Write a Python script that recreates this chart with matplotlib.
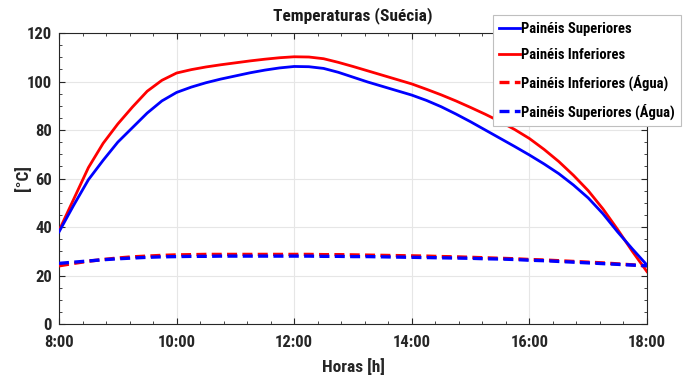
import matplotlib

matplotlib.use("Agg")
import matplotlib.pyplot as plt  # noqa: E402
from matplotlib.ticker import MultipleLocator  # noqa: E402

plt.rcParams["font.family"] = ["Roboto Condensed", "Liberation Sans", "DejaVu Sans"]
plt.rcParams["font.weight"] = "bold"

# hours of the day (decimal), quarter-hour steps
horas = [8.0, 8.25, 8.5, 8.75, 9.0, 9.25, 9.5, 9.75,
         10.0, 10.25, 10.5, 10.75, 11.0, 11.25, 11.5, 11.75,
         12.0, 12.25, 12.5, 12.75, 13.0, 13.25, 13.5, 13.75,
         14.0, 14.25, 14.5, 14.75, 15.0, 15.25, 15.5, 15.75,
         16.0, 16.25, 16.5, 16.75, 17.0, 17.25, 17.5, 17.75, 18.0]

sup = [38.0, 49.0, 59.5, 67.5, 75.0, 81.0, 87.0, 92.0,
       95.5, 97.7, 99.5, 101.0, 102.3, 103.6, 104.7, 105.6,
       106.2, 106.1, 105.4, 103.8, 101.8, 99.8, 98.0, 96.2,
       94.4, 92.2, 89.6, 86.6, 83.4, 80.0, 76.6, 73.2,
       69.7, 66.0, 62.0, 57.3, 52.0, 45.5, 38.0, 31.0, 24.3]
inf = [38.5, 51.5, 64.5, 74.5, 82.5, 89.5, 96.0, 100.5,
       103.5, 104.9, 106.0, 106.9, 107.7, 108.5, 109.2, 109.8,
       110.2, 110.1, 109.4, 107.9, 106.2, 104.4, 102.6, 100.8,
       99.0, 96.8, 94.5, 92.0, 89.3, 86.5, 83.5, 80.2,
       76.5, 72.0, 67.0, 61.3, 55.0, 47.5, 39.0, 30.0, 21.6]
inf_agua = [24.0, 25.0, 25.9, 26.6, 27.2, 27.7, 28.0, 28.3,
            28.5, 28.6, 28.7, 28.7, 28.7, 28.7, 28.7, 28.7,
            28.7, 28.7, 28.6, 28.6, 28.5, 28.4, 28.3, 28.2,
            28.1, 28.0, 27.8, 27.7, 27.5, 27.3, 27.1, 26.9,
            26.6, 26.4, 26.1, 25.8, 25.5, 25.2, 24.8, 24.4, 24.0]
sup_agua = [25.0, 25.5, 26.0, 26.5, 26.9, 27.2, 27.5, 27.7,
            27.8, 27.9, 27.9, 28.0, 28.0, 28.0, 28.0, 28.0,
            28.0, 28.0, 27.9, 27.9, 27.8, 27.8, 27.7, 27.6,
            27.5, 27.4, 27.3, 27.2, 27.1, 26.9, 26.8, 26.6,
            26.3, 26.1, 25.8, 25.5, 25.2, 24.9, 24.6, 24.3, 24.0]

xticks = [8, 10, 12, 14, 16, 18]
xticklabels = ["8:00", "10:00", "12:00", "14:00", "16:00", "18:00"]

fig = plt.figure(figsize=(6.91, 3.79), dpi=100)
ax = fig.add_axes([0.0854, 0.1451, 0.8509, 0.7678])

ax.plot(horas, sup, color="#0000ff", lw=2.0, label="Painéis Superiores", zorder=4)
ax.plot(horas, inf, color="#ff0000", lw=2.0, label="Painéis Inferiores", zorder=3)
ax.plot(horas, inf_agua, color="#ff0000", lw=2.4, ls=(0, (3, 1.6)),
        label="Painéis Inferiores (Água)", zorder=3)
ax.plot(horas, sup_agua, color="#0000ff", lw=2.4, ls=(0, (3, 1.6)),
        label="Painéis Superiores (Água)", zorder=4)

ax.set_xlim(8, 18)
ax.set_ylim(0, 120)
ax.set_xticks(xticks)
ax.set_xticklabels(xticklabels)
ax.set_yticks(range(0, 121, 20))
ax.xaxis.set_minor_locator(MultipleLocator(0.4))
ax.yaxis.set_minor_locator(MultipleLocator(5))
ax.tick_params(which="both", direction="in", top=True, right=True, colors="#262626",
               labelsize=12, labelcolor="#262626")
ax.tick_params(which="major", length=4)
ax.tick_params(axis="x", which="major", pad=8)
ax.tick_params(axis="y", which="major", pad=5)
ax.tick_params(which="minor", length=2.5)
ax.grid(True, which="major", color="#e6e6e6", lw=0.8)
ax.set_axisbelow(True)
for s in ax.spines.values():
    s.set_color("#262626")
    s.set_linewidth(0.8)

ax.set_title("Temperaturas (Suécia)", fontsize=12.5, fontweight="bold", color="#1a1a1a", pad=9)
ax.set_xlabel("Horas [h]", fontsize=12.5, fontweight="bold", color="#262626", labelpad=6)
ax.set_ylabel("[°C]", fontsize=12.5, fontweight="bold", color="#262626")
ax.yaxis.set_label_coords(-0.047, 0.5)

leg = fig.legend(loc="upper right", bbox_to_anchor=(0.986, 0.960), fontsize=10.5,
                 handlelength=1.4, handletextpad=0.1, borderpad=0.45, labelspacing=0.85,
                 fancybox=False, framealpha=1, edgecolor="#bfbfbf", borderaxespad=0)
leg.get_frame().set_linewidth(0.8)

fig.savefig("out.png", dpi=100)
plt.close(fig)
